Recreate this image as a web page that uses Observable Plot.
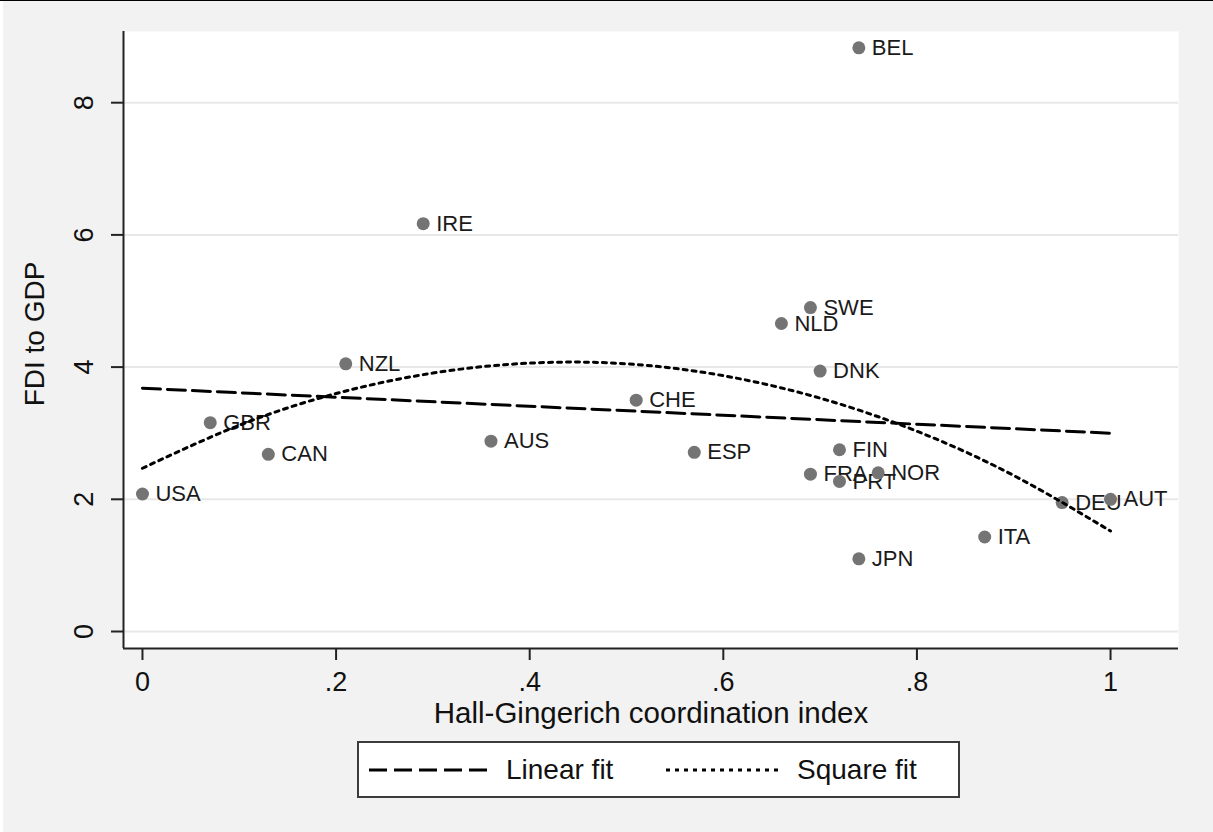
<!DOCTYPE html>
<html>
<head>
<meta charset="utf-8">
<script src="https://cdn.jsdelivr.net/npm/d3@7"></script>
<script src="https://cdn.jsdelivr.net/npm/@observablehq/plot@0.6"></script>
<style>
  html, body { margin: 0; padding: 0; background: #ffffff; }
  #wrap { border-top: 1px solid #000; width: 1213px; height: 831px; position: relative; overflow: hidden; }
  #inner { position: absolute; left: 3px; top: 0; width: 1210px; height: 831px; background: #f2f2f2; }
  #legend { position: absolute; left: 354px; top: 740px; width: 599px; height: 53px;
            background: #fff; border: 2px solid #3c3c3c; font-family: "Liberation Sans", Arial, sans-serif;
            font-size: 28px; color: #111; }
  .item { position: absolute; top: 0; height: 53px; display: flex; align-items: center; }
  .item svg { display: block; }
  .item span { margin-left: 17px; }
</style>
</head>
<body>
<div id="wrap"><div id="inner"><div id="chart"></div><div id="legend"></div></div></div>
<script>
// ---- data ----
const countries = ["USA","GBR","CAN","NZL","IRE","AUS","CHE","ESP","NLD","SWE","DNK","FIN","FRA","PRT","NOR","BEL","JPN","ITA","DEU","AUT"];
const coordIndex = [0, 0.07, 0.13, 0.21, 0.29, 0.36, 0.51, 0.57, 0.66, 0.69, 0.70, 0.72, 0.69, 0.72, 0.76, 0.74, 0.74, 0.87, 0.95, 1.0];
const fdiToGdp   = [2.08, 3.16, 2.68, 4.05, 6.17, 2.88, 3.50, 2.71, 4.66, 4.90, 3.94, 2.75, 2.38, 2.27, 2.40, 8.83, 1.10, 1.43, 1.95, 2.00];

const linearFitX = [0, 1];
const linearFitY = [3.68, 3.00];
const squareFitX = [0, 0.1, 0.2, 0.3, 0.4, 0.5, 0.6, 0.7, 0.8, 0.9, 1.0];
const squareFitY = [2.47, 3.12, 3.60, 3.91, 4.06, 4.05, 3.87, 3.53, 3.03, 2.36, 1.52];

const xTicks = [0, 0.2, 0.4, 0.6, 0.8, 1];
const yTicks = [0, 2, 4, 6, 8];
const xDomain = [-0.0196, 1.0702];
const yDomain = [-0.257, 9.077];
const xTitle = "Hall-Gingerich coordination index";
const yTitle = "FDI to GDP";
const legendLabels = ["Linear fit", "Square fit"];

// ---- tables ----
const points = countries.map((c, i) => ({country: c, x: coordIndex[i], y: fdiToGdp[i]}));
const linearFit = linearFitX.map((x, i) => ({x, y: linearFitY[i]}));
const squareFit = squareFitX.map((x, i) => ({x, y: squareFitY[i]}));
const fmtX = d => d === 0 ? "0" : d === 1 ? "1" : String(d).replace(/^0/, "");

const font = "Liberation Sans, Arial, sans-serif";

const chart = Plot.plot({
  width: 1210,
  height: 734,
  marginLeft: 120,
  marginRight: 35,
  marginTop: 30,
  marginBottom: 87,
  x: {domain: xDomain, axis: null},
  y: {domain: yDomain, axis: null},
  style: {background: "transparent", fontFamily: font, overflow: "visible", color: "#111"},
  marks: [
    Plot.frame({fill: "white", stroke: null}),
    Plot.ruleY(yTicks, {stroke: "#e8e8e8", strokeWidth: 2}),
    Plot.axisY({ticks: yTicks, tickSize: 12, tickFormat: () => "", label: null, stroke: "#222", strokeWidth: 2}),
    Plot.axisX({ticks: xTicks, tickSize: 12, tickFormat: () => "", label: null, stroke: "#222", strokeWidth: 2}),
    Plot.ruleX([xDomain[0]], {stroke: "#222", strokeWidth: 2}),
    Plot.ruleY([yDomain[0]], {stroke: "#222", strokeWidth: 2}),
    Plot.text(yTicks, {y: d => d, text: d => String(d), frameAnchor: "left", dx: -39, rotate: -90,
      fontSize: 27, textAnchor: "middle", lineAnchor: "middle", fill: "#111"}),
    Plot.text(xTicks, {x: d => d, text: fmtX, frameAnchor: "bottom", dy: 34,
      fontSize: 27, textAnchor: "middle", lineAnchor: "middle", fill: "#111"}),
    Plot.text([xTitle], {frameAnchor: "bottom", dy: 65, fontSize: 29.5, textAnchor: "middle", lineAnchor: "middle", fill: "#111"}),
    Plot.text([yTitle], {frameAnchor: "left", dx: -88, dy: -6, rotate: -90, fontSize: 28, textAnchor: "middle", lineAnchor: "middle", fill: "#111"}),
    Plot.text(points, {x: "x", y: "y", text: "country", dx: 13, textAnchor: "start", lineAnchor: "middle",
      fontSize: 22, fill: "#1a1a1a"}),
    Plot.dot(points, {x: "x", y: "y", r: 6.5, fill: "#747474", stroke: null}),
    Plot.line(linearFit, {x: "x", y: "y", stroke: "#000", strokeWidth: 3, strokeDasharray: "18,7"}),
    Plot.line(squareFit, {x: "x", y: "y", stroke: "#000", strokeWidth: 3, strokeDasharray: "4,5", curve: "natural"})
  ]
});
document.getElementById("chart").appendChild(chart);

// ---- legend ----
const legend = document.getElementById("legend");
const items = [
  {label: legendLabels[0], dash: "18,7", left: 10, w: 120},
  {label: legendLabels[1], dash: "4,5", left: 307, w: 114}
];
items.forEach(it => {
  const div = document.createElement("div");
  div.className = "item";
  div.style.left = it.left + "px";
  div.innerHTML = `<svg width="${it.w}" height="10"><line x1="0" y1="5" x2="${it.w}" y2="5" stroke="#000" stroke-width="3" stroke-dasharray="${it.dash}"/></svg><span>${it.label}</span>`;
  legend.appendChild(div);
});
</script>
</body>
</html>
